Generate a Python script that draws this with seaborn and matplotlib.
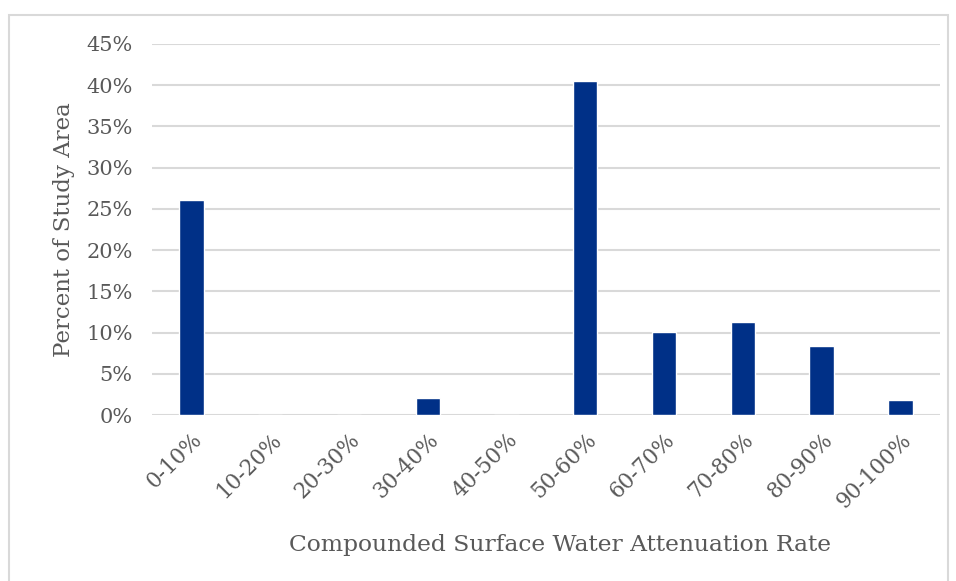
import matplotlib
matplotlib.use("Agg")
import seaborn as sns
import pandas as pd
from matplotlib import pyplot as plt
from matplotlib.patches import Rectangle
from matplotlib.ticker import PercentFormatter

CATEGORIES = ['0-10%', '10-20%', '20-30%', '30-40%', '40-50%',
              '50-60%', '60-70%', '70-80%', '80-90%', '90-100%']
PERCENT_AREA = [26.1, 0.0, 0.0, 2.1, 0.0, 40.5, 10.1, 11.3, 8.4, 1.8]
Y_TICKS = [0, 5, 10, 15, 20, 25, 30, 35, 40, 45]

BAR_COLOR = '#003087'
GRID_COLOR = '#d9d9d9'
TEXT_COLOR = '#595959'

sns.set_style('white')
plt.rcParams['font.family'] = ['DejaVu Serif']

df = pd.DataFrame({'rate': CATEGORIES, 'pct': PERCENT_AREA})

fig = plt.figure(figsize=(9.56, 5.81), dpi=100)
ax = fig.add_axes([0.159, 0.2857, 0.824, 0.6386])

sns.barplot(data=df, x='rate', y='pct', color=BAR_COLOR, width=0.31,
            saturation=1, ax=ax, zorder=3)

ax.set_ylim(0, 45)
ax.set_yticks(Y_TICKS)
ax.yaxis.set_major_formatter(PercentFormatter(decimals=0))
ax.set_xlim(-0.5, len(CATEGORIES) - 0.5)
ax.grid(axis='y', color=GRID_COLOR, linewidth=1.5, zorder=0)
for s in ax.spines.values():
    s.set_visible(False)
ax.tick_params(axis='y', length=0, labelsize=15, colors=TEXT_COLOR, pad=14)
ax.tick_params(axis='x', length=0, labelsize=15.5, colors=TEXT_COLOR, pad=10)
plt.setp(ax.get_xticklabels(), rotation=45, ha='right', rotation_mode='anchor')

ax.set_xlabel('Compounded Surface Water Attenuation Rate', fontsize=16.8,
              color=TEXT_COLOR)
ax.xaxis.set_label_coords(0.518, -0.322)
ax.set_ylabel('Percent of Study Area', fontsize=16.5, color=TEXT_COLOR, labelpad=8)

# light chart border
fig.patches.append(Rectangle((9 / 956, -0.01), 939 / 956, 1 - 15 / 581 + 0.01,
                             transform=fig.transFigure, fill=False,
                             edgecolor=GRID_COLOR, linewidth=1.5))

fig.savefig('out.png', dpi=100)
